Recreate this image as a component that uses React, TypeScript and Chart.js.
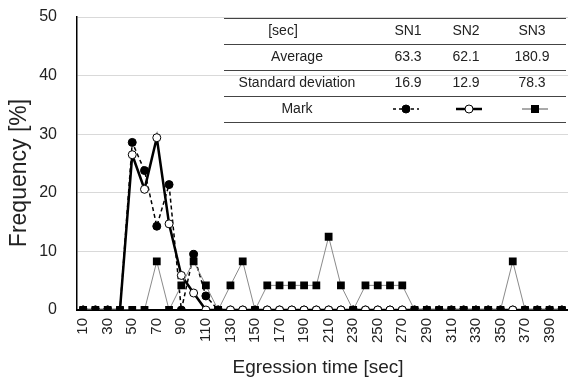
import { useEffect, useRef } from "react";
import { Chart, registerables } from "chart.js";

Chart.register(...registerables);

const categories = [
  "10", "20", "30", "40", "50", "60", "70", "80", "90", "100",
  "110", "120", "130", "140", "150", "160", "170", "180", "190", "200",
  "210", "220", "230", "240", "250", "260", "270", "280", "290", "300",
  "310", "320", "330", "340", "350", "360", "370", "380", "390", "400",
];

const sn1 = [
  0, 0, 0, 0, 28.6, 23.8, 14.3, 21.4, 0, 9.5,
  2.4, 0, 0, 0, 0, 0, 0, 0, 0, 0,
  0, 0, 0, 0, 0, 0, 0, 0, 0, 0,
  0, 0, 0, 0, 0, 0, 0, 0, 0, 0,
];

const sn2 = [
  0, 0, 0, 0, 26.5, 20.6, 29.4, 14.7, 5.9, 2.9,
  0, 0, 0, 0, 0, 0, 0, 0, 0, 0,
  0, 0, 0, 0, 0, 0, 0, 0, 0, 0,
  0, 0, 0, 0, 0, 0, 0, 0, 0, 0,
];

const sn3 = [
  0, 0, 0, 0, 0, 0, 8.3, 0, 4.2, 8.3,
  4.2, 0, 4.2, 8.3, 0, 4.2, 4.2, 4.2, 4.2, 4.2,
  12.5, 4.2, 0, 4.2, 4.2, 4.2, 4.2, 0, 0, 0,
  0, 0, 0, 0, 0, 8.3, 0, 0, 0, 0,
];

const yTickValues = [0, 10, 20, 30, 40, 50];

const tableHeader = ["[sec]", "SN1", "SN2", "SN3"];
const averageRow = ["Average", "63.3", "62.1", "180.9"];
const sdRow = ["Standard deviation", "16.9", "12.9", "78.3"];
const markLabel = "Mark";

const xTitle = "Egression time [sec]";
const yTitle = "Frequency [%]";

const FONT = "'Liberation Sans', Arial, Helvetica, sans-serif";

function drawCircle(ctx: CanvasRenderingContext2D, x: number, y: number, r: number, fill: string) {
  ctx.beginPath();
  ctx.arc(x, y, r, 0, Math.PI * 2);
  ctx.fillStyle = fill;
  ctx.fill();
  ctx.lineWidth = 1;
  ctx.strokeStyle = "#000";
  ctx.stroke();
}

const overlayPlugin = {
  id: "overlay",
  afterDraw(chart: any) {
    const ctx: CanvasRenderingContext2D = chart.ctx;
    ctx.save();

    const left = 224;
    const right = 566;
    const rowLines = [18, 44, 70, 96, 122];
    const rowCenters = [31, 57, 83, 109];
    const firstColCenters = [283, 297, 297, 297];
    const colCenters = [408, 466, 532];
    const markCenters = [406, 469, 535];

    ctx.strokeStyle = "#444";
    ctx.lineWidth = 1;
    rowLines.forEach((y) => {
      ctx.beginPath();
      ctx.moveTo(left, y + 0.5);
      ctx.lineTo(right, y + 0.5);
      ctx.stroke();
    });

    ctx.fillStyle = "#222";
    ctx.font = `14px ${FONT}`;
    ctx.textAlign = "center";
    ctx.textBaseline = "middle";
    const rows = [tableHeader, averageRow, sdRow];
    rows.forEach((row, r) => {
      ctx.fillText(row[0], firstColCenters[r], rowCenters[r]);
      for (let c = 1; c < row.length; c++) {
        ctx.fillText(row[c], colCenters[c - 1], rowCenters[r]);
      }
    });
    ctx.fillText(markLabel, firstColCenters[3], rowCenters[3]);

    const my = rowCenters[3];
    const half = 13;
    ctx.strokeStyle = "#000";
    ctx.lineWidth = 1.5;
    ctx.setLineDash([3, 3]);
    ctx.beginPath();
    ctx.moveTo(markCenters[0] - half, my);
    ctx.lineTo(markCenters[0] + half, my);
    ctx.stroke();
    ctx.setLineDash([]);
    drawCircle(ctx, markCenters[0], my, 4, "#000");

    ctx.lineWidth = 2.5;
    ctx.beginPath();
    ctx.moveTo(markCenters[1] - half, my);
    ctx.lineTo(markCenters[1] + half, my);
    ctx.stroke();
    drawCircle(ctx, markCenters[1], my, 4, "#fff");

    ctx.lineWidth = 1;
    ctx.strokeStyle = "#555";
    ctx.beginPath();
    ctx.moveTo(markCenters[2] - half, my);
    ctx.lineTo(markCenters[2] + half, my);
    ctx.stroke();
    ctx.fillStyle = "#000";
    ctx.fillRect(markCenters[2] - 4, my - 4, 8, 8);

    ctx.fillStyle = "#222";
    ctx.font = `19px ${FONT}`;
    ctx.textAlign = "center";
    ctx.textBaseline = "alphabetic";
    ctx.fillText(xTitle, 318, 373);

    ctx.font = `23px ${FONT}`;
    ctx.translate(26, 173);
    ctx.rotate(-Math.PI / 2);
    ctx.fillText(yTitle, 0, 0);

    ctx.restore();
  },
};

export default function App() {
  const canvasRef = useRef<HTMLCanvasElement | null>(null);

  useEffect(() => {
    if (!canvasRef.current) return;
    Chart.defaults.font.family = FONT;
    const chart = new Chart(canvasRef.current, {
      type: "line",
      data: {
        labels: categories,
        datasets: [
          {
            label: "SN1",
            data: sn1,
            borderColor: "#000",
            borderWidth: 1.5,
            borderDash: [4, 3],
            pointStyle: "circle",
            pointRadius: 4,
            pointBackgroundColor: "#000",
            pointBorderColor: "#000",
            pointBorderWidth: 1,
            tension: 0,
            order: 3,
          },
          {
            label: "SN2",
            data: sn2,
            borderColor: "#000",
            borderWidth: 2.5,
            pointStyle: "circle",
            pointRadius: 4,
            pointBackgroundColor: "#fff",
            pointBorderColor: "#000",
            pointBorderWidth: 1,
            tension: 0,
            order: 2,
          },
          {
            label: "SN3",
            data: sn3,
            borderColor: "#8a8a8a",
            borderWidth: 1,
            pointStyle: "rect",
            pointRadius: 5.5,
            pointBackgroundColor: "#000",
            pointBorderColor: "#000",
            pointBorderWidth: 0,
            tension: 0,
            order: 1,
          },
        ],
      },
      options: {
        animation: false,
        responsive: false,
        maintainAspectRatio: false,
        layout: { autoPadding: false, padding: { top: 17, right: 0, left: 0, bottom: 0 } },
        plugins: {
          legend: { display: false },
          tooltip: { enabled: false },
        },
        scales: {
          x: {
            offset: true,
            grid: { display: false, drawTicks: false },
            border: { color: "#000", width: 2 },
            ticks: {
              autoSkip: false,
              maxRotation: 90,
              minRotation: 90,
              padding: 8,
              color: "#222",
              font: { size: 15 },
              callback: (_v: any, i: number) => (i % 2 === 0 ? categories[i] : ""),
            },
            afterFit: (scale: any) => {
              scale.height = 68;
              scale.paddingLeft = 0;
              scale.paddingRight = 0;
            },
          },
          y: {
            min: 0,
            max: 50,
            grid: { color: "#d9d9d9", lineWidth: 1, drawTicks: false },
            border: { color: "#000", width: 1.5 },
            ticks: { padding: 20, color: "#222", font: { size: 16 } },
            afterBuildTicks: (scale: any) => {
              scale.ticks = yTickValues.map((v) => ({ value: v }));
            },
            afterFit: (scale: any) => {
              scale.width = 77;
              scale.paddingTop = 0;
              scale.paddingBottom = 0;
            },
          },
        },
      },
      plugins: [overlayPlugin],
    });
    return () => chart.destroy();
  }, []);

  return (
    <div style={{ position: "fixed", left: 0, top: 0, width: 568, height: 378, background: "#fff" }}>
      <canvas ref={canvasRef} width={568} height={378} style={{ width: 568, height: 378, display: "block" }} />
    </div>
  );
}
